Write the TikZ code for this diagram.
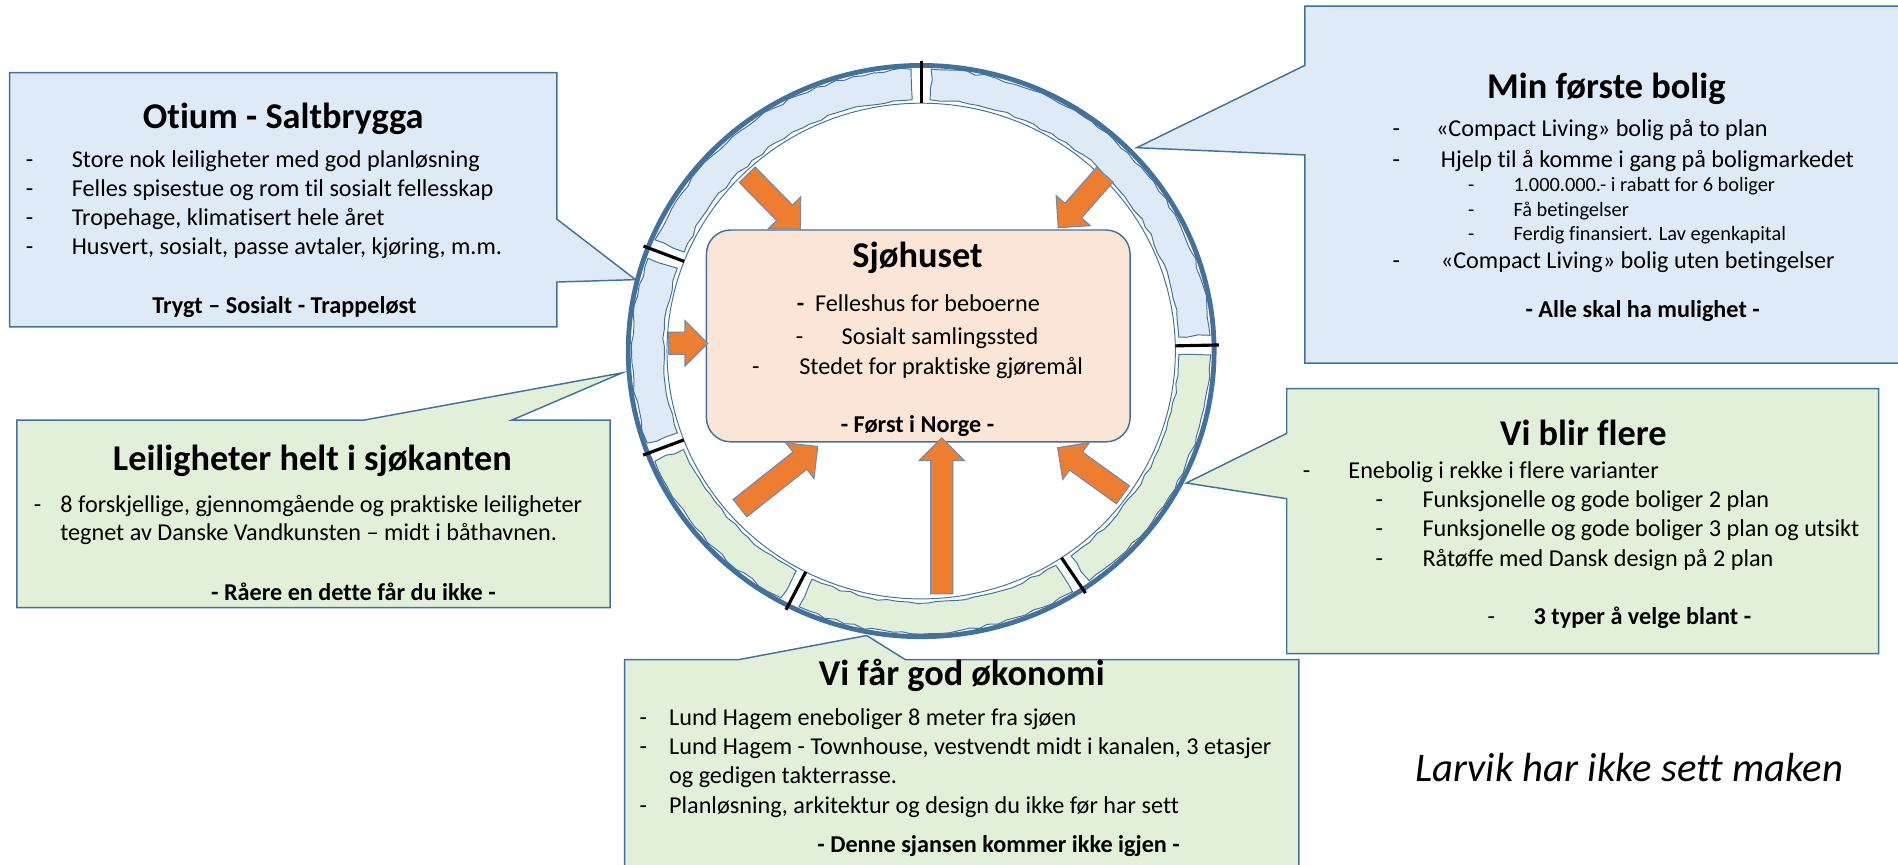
\documentclass[tikz,border=0pt]{standalone}
\usepackage{fontspec}
\setmainfont{Carlito}[Ligatures=NoCommon]
\usetikzlibrary{positioning,shapes.arrows,decorations.pathmorphing}
\definecolor{boxblue}{HTML}{DEEBF7}
\definecolor{boxgreen}{HTML}{E2F0D9}
\definecolor{boxorange}{HTML}{FBE5D6}
\definecolor{lineblue}{HTML}{41719C}
\definecolor{arroworange}{HTML}{ED7D31}
\newcommand{\dashto}[1]{\makebox[#1][l]{-}}
\tikzset{
  callblue/.style={fill=boxblue, draw=lineblue, line width=0.6pt},
  callgreen/.style={fill=boxgreen, draw=lineblue, line width=0.6pt},
  boxtitle/.style={anchor=base, inner sep=0pt, font=\fontsize{15}{18}\selectfont\bfseries, yshift=-4.5pt},
  listline/.style={anchor=base west, inner sep=0pt, font=\fontsize{10}{12}\selectfont, yshift=-3pt},
  subline/.style={anchor=base west, inner sep=0pt, font=\fontsize{8.4}{10}\selectfont, yshift=-2.5pt},
  boxfoot/.style={anchor=base, inner sep=0pt, font=\fontsize{10}{12}\selectfont\bfseries, yshift=-3pt},
  plotland/.style={draw=lineblue, line width=0.4pt, decorate, decoration={random steps, segment length=4pt, amplitude=0.6pt}},
  sepline/.style={line width=1.3pt, black},
  blockarrow/.style={single arrow, fill=arroworange, draw=lineblue!80, line width=0.4pt, inner sep=0pt, text height=8.8pt, text depth=0pt, single arrow head extend=4.85pt, anchor=tail}
}
\begin{document}
\begin{tikzpicture}[x=0.5pt, y=-0.5pt]
\useasboundingbox (0,0) rectangle (1568,714);
\pgfmathsetseed{12}

% the callouts
\draw[callblue] (8,60) -- (460,60) -- (460,181) -- (525,231) -- (460,233) -- (460,270) -- (8,270) -- cycle;
\draw[callblue] (1078,5) -- (1569,5) -- (1569,300) -- (1078,300) -- (1078,128) -- (939,122) -- (1078,54) -- cycle;
\draw[callgreen] (14,347) -- (301,347) -- (514,308) -- (423,347) -- (504,347) -- (504,502) -- (14,502) -- cycle;
\draw[callgreen] (1063,321) -- (1552,321) -- (1552,540) -- (1063,540) -- (1063,412) -- (980,399) -- (1063,358) -- cycle;
\draw[callgreen] (516,545) -- (610,545) -- (716,525) -- (748,545) -- (1073,545) -- (1073,720) -- (516,720) -- cycle;

% the ring of plots
\begin{scope}[shift={(761,290)}, yscale=0.975]
\foreach \s/\e/\c in {3.2/88/boxblue, 92/156.8/boxblue, 160.8/199/boxblue, 203/241/boxgreen, 245/301.5/boxgreen, 305.5/359.2/boxgreen}
  \draw[plotland, fill=\c] (-\s:239) arc[start angle=-\s, end angle=-\e, radius=239] -- (-\e:213) arc[start angle=-\e, end angle=-\s, radius=213] -- cycle;
\draw[lineblue, line width=0.4pt] (0,0) circle[radius=210];
\draw[lineblue, line width=2pt] (0,0) circle[radius=242];
\foreach \a in {1.2,90,158.8,201,243,303.5}
  \draw[sepline] (-\a:210) -- (-\a:246);
\end{scope}

% the house in the middle
\node[fill=boxorange, draw=lineblue, line width=0.6pt, rounded corners=10pt, minimum width=175pt, minimum height=87.5pt] (sjo) at (758.6,277.5) {};

% the arrows
\node[blockarrow, minimum height=31.45pt, rotate=-45.6] (a1) at (617,144) {};
\node[blockarrow, minimum height=29.2pt, rotate=-131.3] (a2) at (913,144) {};
\node[blockarrow, minimum height=16.15pt, rotate=0] (a3) at (552,283.6) {};
\node[blockarrow, minimum height=41pt, rotate=38.4] (a4) at (611,420) {};
\node[blockarrow, minimum height=64.5pt, rotate=90] (a5) at (778,491) {};
\node[blockarrow, minimum height=33.3pt, rotate=144.2] (a6) at (928,409) {};

% Sjohuset
\node[boxtitle] (sjot) at (758,212) {Sjøhuset};
\node[listline] (sjo1) at (658,251) {\makebox[7.5pt][l]{\bfseries -}Felleshus for beboerne};
\node[listline] (sjo2) at (657,279) {\dashto{19pt}Sosialt samlingssted};
\node[listline] (sjo3) at (621,303) {\dashto{19.5pt}Stedet for praktiske gjøremål};
\node[boxfoot] (sjof) at (758,351) {- Først i Norge -};

% Otium
\node[boxtitle] (ot) at (234,97) {Otium - Saltbrygga};
\node[listline] (o1) at (21,132) {\dashto{19pt}Store nok leiligheter med god planløsning};
\node[listline] (o2) at (21,156) {\dashto{19pt}Felles spisestue og rom til sosialt fellesskap};
\node[listline] (o3) at (21,180) {\dashto{19pt}Tropehage, klimatisert hele året};
\node[listline] (o4) at (21,204) {\dashto{19pt}Husvert, sosialt, passe avtaler, kjøring, m.m.};
\node[boxfoot] (of) at (235,253) {Trygt – Sosialt - Trappeløst};

% Min forste bolig
\node[boxtitle] (mt) at (1327,72) {Min første bolig};
\node[listline] (m1) at (1150,107) {\dashto{18pt}«Compact Living» bolig på to plan};
\node[listline] (m2) at (1150,132) {\dashto{20pt}Hjelp til å komme i gang på boligmarkedet};
\node[subline] (m3) at (1212.5,153) {\dashto{18.75pt}1.000.000.- i rabatt for 6 boliger};
\node[subline] (m4) at (1212.5,173.5) {\dashto{18.75pt}Få betingelser};
\node[subline] (m5) at (1212.5,193.6) {\dashto{18.75pt}Ferdig finansiert. Lav egenkapital};
\node[listline] (m6) at (1150,216) {\dashto{20pt}«Compact Living» bolig uten betingelser};
\node[boxfoot] (mf) at (1357,256) {- Alle skal ha mulighet -};

% Leiligheter
\node[boxtitle] (lt) at (258,380) {Leiligheter helt i sjøkanten};
\node[listline] (l1) at (27.5,417) {\dashto{11pt}8 forskjellige, gjennomgående og praktiske leiligheter};
\node[listline] (l2) at (49.4,440.5) {tegnet av Danske Vandkunsten – midt i båthavnen.};
\node[boxfoot] (lf) at (292,490) {- Råere en dette får du ikke -};

% Vi blir flere
\node[boxtitle] (vt) at (1308,359.4) {Vi blir flere};
\node[listline] (v1) at (1076,389) {\dashto{18.8pt}Enebolig i rekke i flere varianter};
\node[listline] (v2) at (1136,413) {\dashto{19.4pt}Funksjonelle og gode boliger 2 plan};
\node[listline] (v3) at (1136,437.3) {\dashto{19.4pt}Funksjonelle og gode boliger 3 plan og utsikt};
\node[listline] (v4) at (1136,462) {\dashto{19.4pt}Råtøffe med Dansk design på 2 plan};
\node[listline] (vf) at (1228.6,510) {\dashto{19pt}\textbf{3 typer å velge blant -}};

% Vi far god okonomi
\node[boxtitle] (gt) at (794.5,557.6) {Vi får god økonomi};
\node[listline] (g1) at (528,593) {\dashto{12.2pt}Lund Hagem eneboliger 8 meter fra sjøen};
\node[listline] (g2) at (528,617.4) {\dashto{12.2pt}Lund Hagem - Townhouse, vestvendt midt i kanalen, 3 etasjer};
\node[listline] (g3) at (552.4,641.6) {og gedigen takterrasse.};
\node[listline] (g4) at (528,666) {\dashto{12.2pt}Planløsning, arkitektur og design du ikke før har sett};
\node[boxfoot] (gf) at (825,698) {- Denne sjansen kommer ikke igjen -};

\node[anchor=base west, inner sep=0pt, font=\fontsize{16.8}{20}\selectfont\itshape, yshift=-5pt] (larvik) at (1169,636) {Larvik har ikke sett maken};

\end{tikzpicture}
\end{document}
